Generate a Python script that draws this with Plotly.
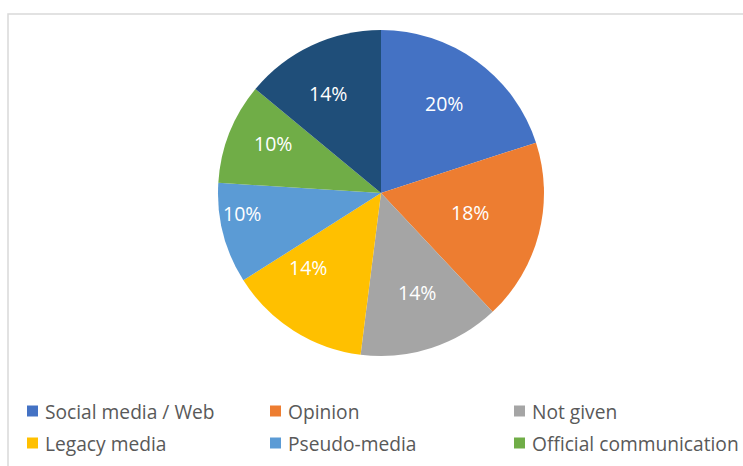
import math
import plotly.graph_objects as go

# Source categories and their shares (percent)
labels = ["Social media / Web", "Opinion", "Not given", "Legacy media",
          "Pseudo-media", "Official communication", "Other"]
values = [20, 18, 14, 14, 10, 10, 14]
colors = ["#4472C4", "#ED7D31", "#A5A5A5", "#FFC000",
          "#5B9BD5", "#70AD47", "#1F4E79"]

# Legend entries shown below the pie (two rows of three)
legend_labels = labels[:6]
legend_colors = colors[:6]

# Placement of the percentage labels inside each slice:
# fraction of the radius, and a small angular nudge in degrees
label_radius = [0.67, 0.56, 0.65, 0.64, 0.865, 0.73, 0.69]
label_nudge = [-1, -2, -2, 12, 6, 3, -3]

W, H = 743, 466
cx, cy, r = 381, 193, 163
FONT = "'Open Sans', Lato, sans-serif"

fig = go.Figure(go.Pie(
    labels=labels,
    values=values,
    sort=False,
    direction="clockwise",
    rotation=0,
    marker=dict(colors=colors, line=dict(width=0)),
    textinfo="none",
    domain=dict(x=[(cx - r) / W, (cx + r) / W], y=[1 - (cy + r) / H, 1 - (cy - r) / H]),
    hoverinfo="label+percent",
    showlegend=False,
))

annotations = []
total = sum(values)
start = 0.0
for v, frac, nudge in zip(values, label_radius, label_nudge):
    mid = (start + v / 2) / total * 360 + nudge
    start += v
    px = cx + frac * r * math.sin(math.radians(mid))
    py = cy - frac * r * math.cos(math.radians(mid))
    annotations.append(dict(xref="paper", yref="paper", x=px / W, y=1 - py / H,
                            xanchor="center", yanchor="middle", showarrow=False,
                            text=f"{round(v / total * 100)}%",
                            font=dict(family=FONT, size=19.5, color="white")))

shapes = [dict(type="rect", xref="paper", yref="paper",
               x0=8 / W, x1=1.02, y0=-0.02, y1=1 - 14 / H,
               line=dict(color="#D9D9D9", width=1.5), fillcolor="rgba(0,0,0,0)")]
col_x = [27, 270, 514]
row_y = [411, 443]
for i, (lab, col) in enumerate(zip(legend_labels, legend_colors)):
    x = col_x[i % 3]
    y = row_y[i // 3]
    shapes.append(dict(type="rect", xref="paper", yref="paper",
                       x0=x / W, x1=(x + 11) / W,
                       y0=1 - (y + 5.5) / H, y1=1 - (y - 5.5) / H,
                       line=dict(width=0), fillcolor=col))
    annotations.append(dict(xref="paper", yref="paper",
                            x=(x + 16) / W, y=1 - y / H,
                            xanchor="left", yanchor="middle", showarrow=False,
                            text=lab,
                            font=dict(family=FONT, size=19.2, color="#595959")))

fig.update_layout(
    width=W, height=H,
    margin=dict(l=0, r=0, t=0, b=0),
    paper_bgcolor="white",
    plot_bgcolor="white",
    shapes=shapes,
    annotations=annotations,
)

fig.write_html("out.html")
